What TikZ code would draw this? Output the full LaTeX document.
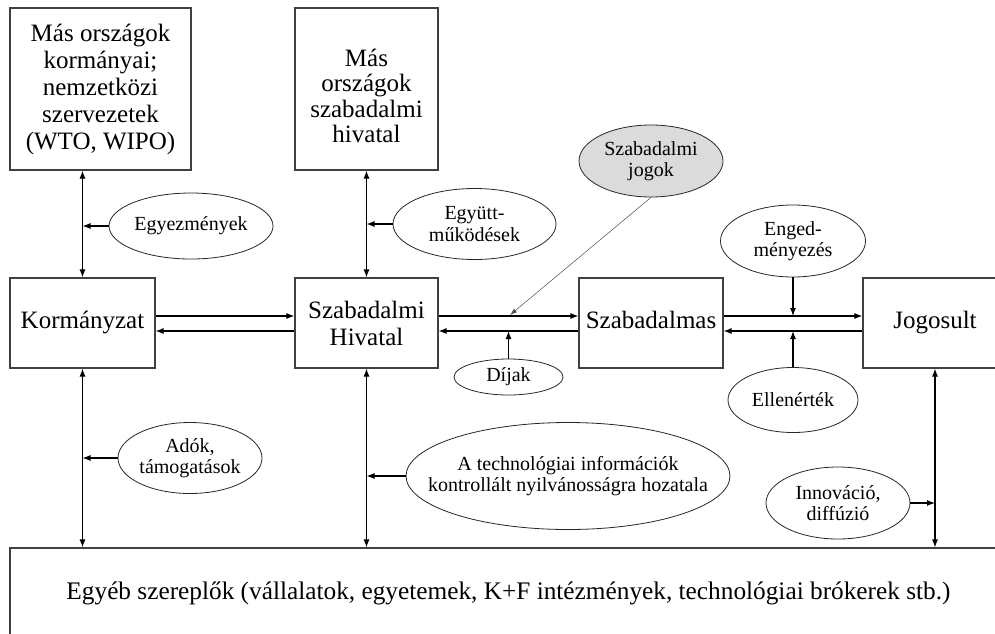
\documentclass[tikz,border=0pt]{standalone}
\usepackage{fontspec}
\setmainfont{Liberation Serif}
\usetikzlibrary{arrows.meta,shapes.geometric}

\begin{document}
\begin{tikzpicture}[x=1pt,y=-1pt,
  box/.style={draw=black!75,line width=1.1pt,inner sep=0pt,align=center,
    font=\fontsize{25}{27}\selectfont},
  boxtext/.style={inner sep=0pt,align=center,font=\fontsize{25}{25.5}\selectfont},
  bubble/.style={ellipse,draw=black!85,line width=0.8pt,inner sep=0pt,
    align=center,font=\fontsize{20}{21.5}\selectfont},
  tip/.style={-{Latex[length=8pt,width=6pt]}},
  link/.style={line width=1.1pt,tip},
  twoway/.style={line width=1.1pt,{Latex[length=8pt,width=6pt]}-{Latex[length=8pt,width=6pt]}},
  thin/.style={line width=0.5pt,draw=black!70,-{Latex[length=7pt,width=4.5pt]}}]

\useasboundingbox (0,0) rectangle (995,633);
\clip (0,0) rectangle (995,633);

% actors
\node[box,minimum width=181pt,minimum height=162pt] (intl) at (100.5,89)
  {\strut Más országok\\kormányai;\\nemzetközi\\szervezetek\\(WTO, WIPO)};
\node[box,minimum width=143pt,minimum height=162pt] (fpo) at (366.5,89) {};
\node[boxtext] (fpotext) at (366.5,96) {Más\\országok\\szabadalmi\\hivatal};
\node[box,minimum width=145pt,minimum height=90pt] (gov) at (82.5,323) {\strut Kormányzat};
\node[box,minimum width=143pt,minimum height=90pt] (po) at (366.5,323) {Szabadalmi\\Hivatal};
\node[box,minimum width=144pt,minimum height=90pt] (holder) at (651,323) {\strut Szabadalmas};
\node[box,minimum width=144pt,minimum height=90pt] (lic) at (935,323) {\strut Jogosult};
\node[box,minimum width=1010pt,minimum height=160pt] (others) at (515,628) {};
\node[font=\fontsize{25.3}{27}\selectfont] (otherstext) at (508.5,593)
  {Egyéb szereplők (vállalatok, egyetemek, K+F intézmények, technológiai brókerek stb.)};

% flows
\node[bubble,minimum width=164pt,minimum height=66pt] (agree) at (191,226) {Egyezmények};
\node[bubble,minimum width=163pt,minimum height=71pt] (coop) at (474.5,224) {Együtt-\\működések};
\node[bubble,fill=black!14,minimum width=144pt,minimum height=72pt] (rights) at (651,161) {Szabadalmi\\jogok};
\node[bubble,minimum width=145pt,minimum height=72pt] (licensing) at (793,241) {Enged-\\ményezés};
\node[bubble,minimum width=109pt,minimum height=36pt] (fees) at (508.5,377) {Díjak};
\node[bubble,minimum width=130pt,minimum height=65pt] (royalty) at (793,400) {Ellenérték};
\node[bubble,minimum width=144pt,minimum height=71pt] (taxes) at (190,458) {Adók,\\támogatások};
\node[bubble,inner xsep=-30pt,minimum width=324pt,minimum height=107pt] (disclosure) at (568,476)
  {A technológiai információk\\kontrollált nyilvánosságra hozatala};
\node[bubble,minimum width=144pt,minimum height=72pt] (innov) at (838,503) {Innováció,\\diffúzió};

% vertical two-way links
\draw[twoway] (intl.south -| gov.north) -- (gov.north);
\draw[twoway] (fpo.south -| po.north) -- (po.north);
\draw[twoway] (gov.south) -- (gov.south |- others.north);
\draw[twoway] (po.south) -- (po.south |- others.north);
\draw[twoway] (lic.south) -- (lic.south |- others.north);

% horizontal pairs
\draw[link] (gov.east |- 0,316) -- (po.west |- 0,316);
\draw[link] (po.west |- 0,331) -- (gov.east |- 0,331);
\draw[link] (po.east |- 0,316) -- (holder.west |- 0,316);
\draw[link] (holder.west |- 0,331) -- (po.east |- 0,331);
\draw[link] (holder.east |- 0,316) -- (lic.west |- 0,316);
\draw[link] (lic.west |- 0,331) -- (holder.east |- 0,331);

% labels feeding the links
\draw[link] (agree.west) -- (agree.west -| gov.north);
\draw[link] (coop.west) -- (coop.west -| po.north);
\draw[link] (taxes.west) -- (taxes.west -| gov.south);
\draw[link] (disclosure.west) -- (disclosure.west -| po.south);
\draw[link] (innov.east) -- (innov.east -| lic.south);
\draw[link] (fees.north) -- (fees.north |- 0,331);
\draw[link] (licensing.south) -- (licensing.south |- 0,316);
\draw[link] (royalty.north) -- (royalty.north |- 0,331);
\coordinate (rightsend) at (510,315);
\draw[thin] (rights.south) -- (rightsend);
\end{tikzpicture}
\end{document}
